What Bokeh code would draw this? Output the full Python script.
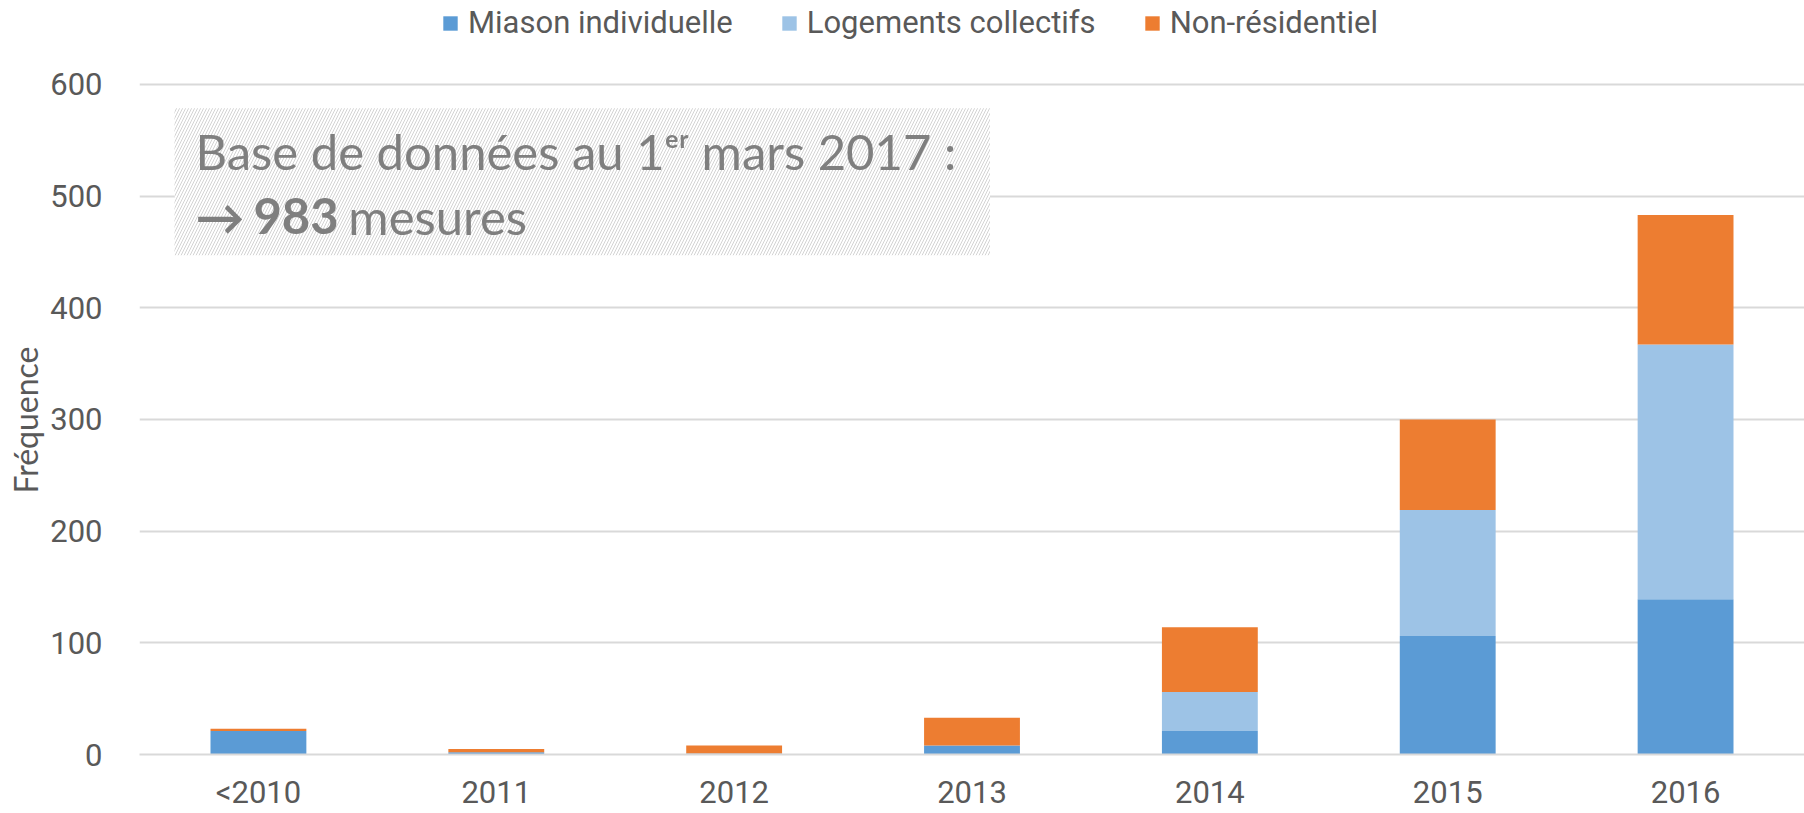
from bokeh.plotting import figure
from bokeh.models import FactorRange, Range1d, Legend, LegendItem, BoxAnnotation, Label, FixedTicker, Title
from bokeh.embed import file_html
from bokeh.resources import INLINE

# ---------------- data ----------------
categories = ["<2010", "2011", "2012", "2013", "2014", "2015", "2016"]
maison = [21, 2, 1, 8, 21, 106, 139]
collectifs = [0, 0, 0, 0, 35, 113, 228]
non_residentiel = [2, 3, 7, 25, 58, 81, 116]
series_names = ["Miason individuelle", "Logements collectifs", "Non-résidentiel"]
y_ticks = [0, 100, 200, 300, 400, 500, 600]

# ---------------- layout constants ----------------
W, H = 1804, 813
FL, FR, FB = 138, 1804, 755
Y600 = 84            # pixel row of the 600 gridline
YMAX = 600
YEND = YMAX * FB / (FB - Y600)   # frame extends to the top of the canvas
colors = ["#5b9bd5", "#9dc3e6", "#ed7d31"]
GRAY = "#595959"

def dx(fx):
    return (fx - FL) / (FR - FL) * len(categories)

def dy(fy):
    return (FB - fy) / (FB - Y600) * YMAX

src = dict(cat=categories, m=maison, c=collectifs, n=non_residentiel)

p = figure(x_range=FactorRange(*categories), y_range=Range1d(0, YEND),
           width=W, height=H, output_backend="svg", toolbar_location=None,
           min_border_left=FL, min_border_right=W - FR,
           min_border_top=0, min_border_bottom=H - FB)
p.title = None
p.x_range.range_padding = 0
p.outline_line_color = None
p.background_fill_color = "white"
p.border_fill_color = "white"

renderers = p.vbar_stack(["m", "c", "n"], x="cat", width=0.403, source=src,
                         color=colors, line_color=None)

# grid
p.xgrid.grid_line_color = None
p.ygrid.grid_line_color = "#d9d9d9"
p.ygrid.grid_line_width = 2
p.yaxis.ticker = FixedTicker(ticks=y_ticks)

# x axis
xa = p.xaxis[0]
xa.axis_line_color = "#d9d9d9"
xa.axis_line_width = 2
xa.major_tick_line_color = None
xa.minor_tick_line_color = None
xa.major_label_standoff = 13
xa.major_label_text_font = "Roboto"
xa.major_label_text_font_size = "31px"
xa.major_label_text_color = GRAY

# y axis
ya = p.yaxis[0]
ya.axis_line_color = None
ya.major_tick_line_color = None
ya.minor_tick_line_color = None
ya.major_label_standoff = 31
ya.major_label_text_font = "Roboto"
ya.major_label_text_font_size = "31px"
ya.major_label_text_color = GRAY

# y axis title (centred on the 0-600 band, not on the whole frame)
ytitle = Title(text="Fréquence", align="left", offset=FB - 494,
               text_font="Lato", text_font_size="32px", text_font_style="normal",
               text_color=GRAY, standoff=6)
p.add_layout(ytitle, "left")

# legend (inside the frame, above the 600 line)
items = [LegendItem(label=name, renderers=[r]) for name, r in zip(series_names, renderers)]
legend = Legend(items=items, orientation="horizontal", location=(302, 713),
                glyph_width=18, glyph_height=18, label_standoff=9, spacing=47,
                padding=0, margin=0, border_line_color=None,
                background_fill_alpha=0,
                label_text_font="Roboto", label_text_font_size="31px",
                label_text_color=GRAY)
p.add_layout(legend, "center")

# annotation box with hatch
box = BoxAnnotation(left=dx(173), right=dx(989), top=dy(108), bottom=dy(255),
                    fill_color="white", fill_alpha=1, line_color=None,
                    hatch_pattern="/", hatch_color="#d3d3d3", hatch_scale=6,
                    hatch_weight=1, hatch_alpha=1)
p.add_layout(box)

TXT = "#7f7f7f"
FS = "49px"
line1 = Label(x=dx(194), y=dy(151), text="Base de données au 1ᵉʳ mars 2017 :",
              text_font="Lato", text_font_size=FS, text_color=TXT,
              text_baseline="alphabetic")
arrow = Label(x=dx(194), y=dy(216), text="→", text_font="Lato",
              text_font_size=FS, text_font_style="bold", text_color=TXT,
              text_baseline="alphabetic")
n983 = Label(x=dx(252), y=dy(216), text="983", text_font="Lato",
             text_font_size=FS, text_font_style="bold", text_color=TXT,
             text_baseline="alphabetic")
mes = Label(x=dx(347), y=dy(216), text="mesures", text_font="Lato",
            text_font_size=FS, text_color=TXT, text_baseline="alphabetic")
for l in (line1, arrow, n983, mes):
    p.add_layout(l)

open("out.html", "w").write(file_html(p, INLINE))
